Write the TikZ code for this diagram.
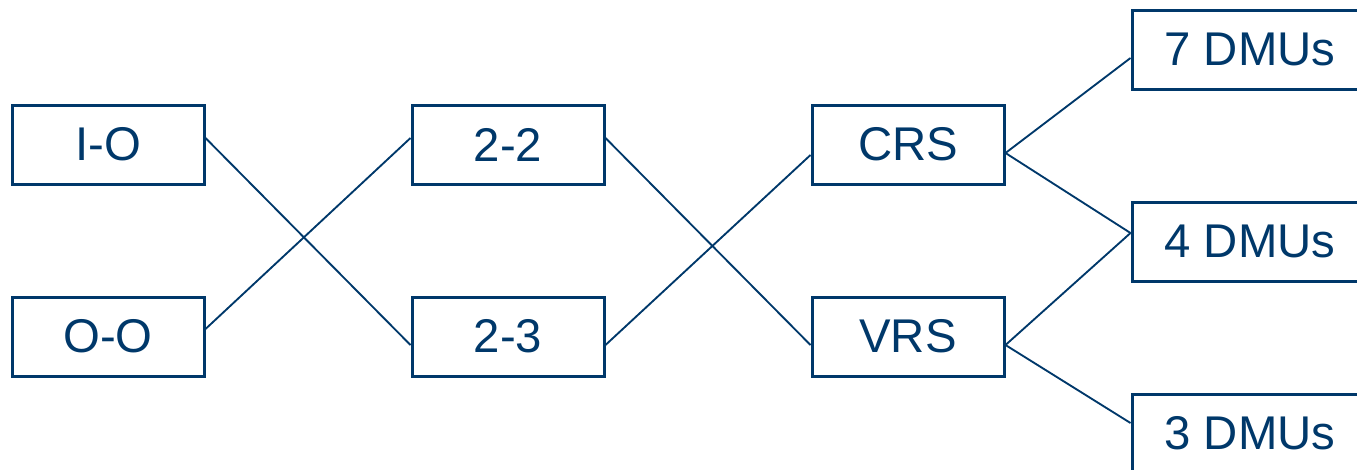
\documentclass[tikz,border=0pt]{standalone}
\usepackage{fontspec}
\setmainfont{Liberation Sans}
\usetikzlibrary{calc}
\definecolor{navy}{RGB}{0,56,106}
\begin{document}
\begin{tikzpicture}[x=0.75pt,y=-0.75pt,
  box/.style={draw=navy,line width=2.25pt,rectangle,minimum width=144pt,minimum height=59.25pt,inner sep=0pt,text=navy,font=\fontsize{35.5}{40}\selectfont},
  wide/.style={box,minimum width=177pt},
  link/.style={draw=navy,line width=1.4pt}]
\useasboundingbox (0,0) rectangle (1357,469);
\clip (0,0) rectangle (1357,469);
\node[box] (io) at (108,144.5) {I-O};
\node[box] (oo) at (108,336.5) {O-O};
\node[box] (t22) at (508,144.5) {2-2};
\node[box] (t23) at (508,336.5) {2-3};
\node[box] (crs) at (908,144.5) {CRS};
\node[box] (vrs) at (908,336.5) {VRS};
\node[wide] (d7) at (1250,49.5) {7 DMUs};
\node[wide] (d4) at (1250,241.5) {4 DMUs};
\node[wide] (d3) at (1250,433.5) {3 DMUs};
\draw[link] ($(io.east)+(0,-6.5)$) -- ($(t23.west)+(0,8.5)$);
\draw[link] ($(oo.east)+(0,-7.5)$) -- ($(t22.west)+(0,-6.5)$);
\draw[link] ($(t22.east)+(0,-6.5)$) -- ($(vrs.west)+(0,8.5)$);
\draw[link] ($(t23.east)+(0,8.5)$) -- ($(crs.west)+(0,10.5)$);
\draw[link] ($(crs.east)+(0,8.5)$) -- ($(d7.west)+(0,8.5)$);
\draw[link] ($(crs.east)+(0,8.5)$) -- ($(d4.west)+(0,-8.5)$);
\draw[link] ($(vrs.east)+(0,8.5)$) -- ($(d4.west)+(0,-8.5)$);
\draw[link] ($(vrs.east)+(0,8.5)$) -- ($(d3.west)+(0,-10.5)$);
\end{tikzpicture}
\end{document}
